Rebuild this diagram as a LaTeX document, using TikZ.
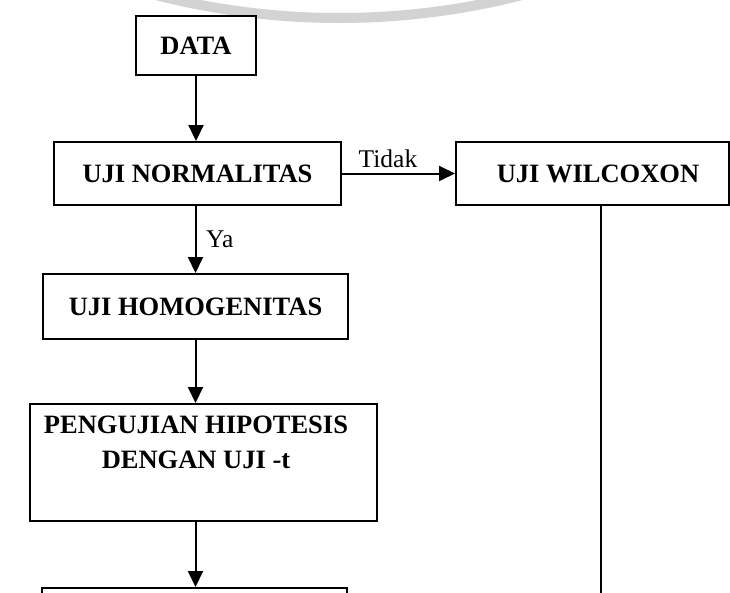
\documentclass[tikz,border=0pt]{standalone}
\usepackage{fontspec}
\setmainfont{Liberation Serif}
\usetikzlibrary{arrows.meta}
\begin{document}
\begin{tikzpicture}[x=1pt,y=-1pt,
  box/.style={draw,line width=2pt,fill=white,inner sep=0pt,anchor=center,
    font=\fontsize{26.5}{30}\selectfont\bfseries},
  lbl/.style={inner sep=0pt,font=\fontsize{26.5}{30}\selectfont\bfseries,align=center},
  small/.style={inner sep=0pt,font=\fontsize{25.5}{30}\selectfont},
  arr/.style={line width=2pt,-{Triangle[width=15pt,length=16pt]}},
  plain/.style={line width=1.6pt}]
\useasboundingbox (0,0) rectangle (730,592);
% watermark arc
\draw[line width=10pt,color={rgb,255:red,211;green,211;blue,211}] (339,-717) circle[radius=735pt];
% boxes
\node[box,minimum width=120pt,minimum height=59pt] (data) at (196,45.5) {DATA};
\node[box,minimum width=287pt,minimum height=63pt] (norm) at (197.5,173.5) {UJI NORMALITAS};
\node[box,minimum width=273pt,minimum height=63pt] (wilc) at (592.5,173.5) {};
\node[lbl] (wilct) at (598,173.5) {UJI WILCOXON};
\node[box,minimum width=305pt,minimum height=65pt] (homo) at (195.5,306.5) {UJI HOMOGENITAS};
\node[box,minimum width=347pt,minimum height=117pt] (peng) at (203.5,462.5) {};
\node[lbl,anchor=north,font=\fontsize{26.5}{35}\selectfont\bfseries] (pengt) at (196,416) {PENGUJIAN HIPOTESIS\\DENGAN UJI -t};
\node[box,minimum width=305pt,minimum height=60pt,anchor=north] (bot) at (194.5,587) {};
% connectors
\draw[arr] (data.south) -- (data.south |- norm.north);
\draw[arr] (norm.east) -- (wilc.west);
\node[small,anchor=base] (tidak) at (388,167) {Tidak};
\draw[arr] (norm.south -| homo.north) -- (homo.north);
\node[small,anchor=base west] (ya) at (206,247) {Ya};
\draw[arr] (homo.south) -- (homo.south |- peng.north);
\draw[arr] (homo.south |- peng.south) -- (homo.south |- bot.north);
\coordinate (wend) at (601,600);
\draw[plain] (wend |- wilc.south) -- (wend);
\end{tikzpicture}
\end{document}
